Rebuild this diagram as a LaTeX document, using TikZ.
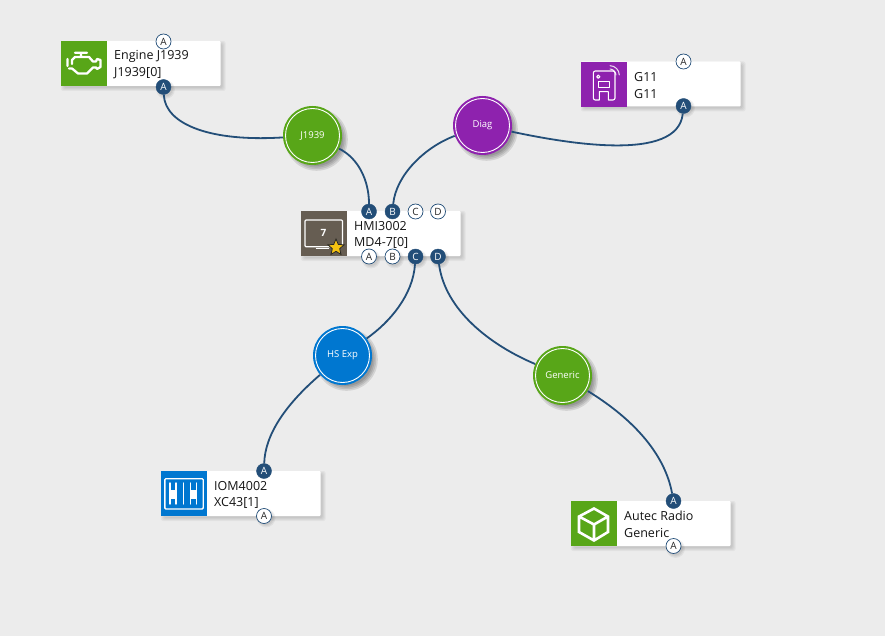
\documentclass[tikz,border=0pt]{standalone}
\usepackage{fontspec}
\setmainfont{Open Sans}
\usetikzlibrary{shapes.geometric}
\definecolor{canvasgrey}{HTML}{ECECEC}
\definecolor{linkblue}{HTML}{234E78}
\definecolor{leafgreen}{HTML}{58A618}
\definecolor{diagpurple}{HTML}{8E22AE}
\definecolor{expblue}{HTML}{0077D0}
\definecolor{hmibrown}{HTML}{665D52}
\definecolor{stargold}{HTML}{F6C312}
\tikzset{
  x=1pt,y=-1pt,
  cardbody/.style={fill=white,rounded corners=0.8,draw=none},
  iconbox/.style={draw=none,inner sep=0,minimum width=46,minimum height=45},
  cardtext/.style={anchor=west,inner sep=0,font=\fontsize{12.5}{14}\selectfont,text=black!92},
  portbase/.style={circle,inner sep=0,minimum size=15,font=\fontsize{10}{10}\selectfont},
  portused/.style={portbase,fill=linkblue,draw=linkblue,text=white},
  portfree/.style={portbase,fill=white,draw=linkblue,line width=.7,text=black!85},
  busnode/.style={circle,inner sep=0,minimum size=59,text=white,font=\fontsize{9.5}{10}\selectfont},
  link/.style={draw=linkblue,line width=1.8},
  glyph/.style={draw=white,line width=2.3,line join=round,line cap=round},
}
% soft shadow under a rectangle or a disc, built from stacked translucent layers
\newcommand{\softbox}[4]{%
  \foreach \g in {0,1,2,3}{%
    \fill[black,opacity=.04,rounded corners=2] (#1+3-\g,#2+3-\g) rectangle (#3+2+\g,#4+2+\g);}%
}
\newcommand{\softdisc}[2]{%
  \foreach \g in {0,1,2,3}{%
    \fill[black,opacity=.10] (#1+4,#2+4) circle[radius=26.5+\g*1.6];}%
}
\newcommand{\softdot}[2]{%
  \foreach \g in {0,1,2}{%
    \fill[black,opacity=.05] (#1+2,#2+2) circle[radius=7+\g*1.2];}%
}
% card: name, left, top, icon colour, first line, second line
\newcommand{\devicecard}[6]{%
  \softbox{#2}{#3}{#2+159.5}{#3+45}%
  \path[cardbody] (#2,#3) rectangle (#2+159.5,#3+45);%
  \node[iconbox,fill=#4,anchor=north west] (#1) at (#2,#3) {};%
  \node[cardtext] (#1l1) at (#2+53,#3+15.3) {#5};%
  \node[cardtext] (#1l2) at (#2+53,#3+32.3) {#6};%
}
% bus disc with an inner white ring
\newcommand{\busdisc}[5]{%
  \softdisc{#2}{#3}%
  \node[busnode,fill=#4] (#1) at (#2,#3) {#5};%
  \draw[white,line width=.9] (#1.center) circle[radius=27];%
}
\begin{document}
\begin{tikzpicture}
\useasboundingbox (0,0) rectangle (885,636);
\fill[canvasgrey] (0,0) rectangle (885,636);

% device cards
\devicecard{eng}{61}{41}{leafgreen}{Engine J1939}{J1939[0]}
\devicecard{gel}{581}{61.5}{diagpurple}{G11}{G11}
\devicecard{hmi}{301}{211}{hmibrown}{HMI3002}{MD4-7[0]}
\devicecard{iom}{161}{471}{expblue}{IOM4002}{XC43[1]}
\devicecard{aut}{571}{501}{leafgreen}{Autec Radio}{Generic}

% port markers
\softdot{163.5}{87.5}\softdot{683.5}{106}\softdot{415.5}{257}\softdot{438}{257}
\softdot{264}{516}\softdot{673.5}{546.5}\softdot{369}{257}\softdot{392.5}{257}
\node[portfree] (engT) at (163.5,41.5) {A};
\node[portused] (engB) at (163.5,87) {A};
\node[portfree] (gelT) at (683.5,61.5) {A};
\node[portused] (gelB) at (683.5,106) {A};
\node[portused] (hmiTA) at (369,211.5) {A};
\node[portused] (hmiTB) at (392.5,211.5) {B};
\node[portfree] (hmiTC) at (415.5,211.5) {C};
\node[portfree] (hmiTD) at (438,211.5) {D};
\node[portfree] (hmiBA) at (369,256.5) {A};
\node[portfree] (hmiBB) at (392.5,256.5) {B};
\node[portused] (hmiBC) at (415.5,256.5) {C};
\node[portused] (hmiBD) at (438,256.5) {D};
\node[portused] (iomT) at (264,471) {A};
\node[portfree] (iomB) at (264,516) {A};
\node[portused] (autT) at (673.5,501) {A};
\node[portfree] (autB) at (673.5,546) {A};

% bus discs
\busdisc{jbus}{312.5}{135.5}{leafgreen}{J1939}
\busdisc{dbus}{482.5}{125.5}{diagpurple}{Diag}
\busdisc{hbus}{342.5}{355.5}{expblue}{HS Exp}
\busdisc{gbus}{562.5}{375.5}{leafgreen}{Generic}

% connectors
\draw[link] (engB) .. controls (165,125) and (212,142) .. (jbus);
\draw[link] (jbus) .. controls (358,158) and (369,180) .. (hmiTA);
\draw[link] (hmiTB) .. controls (396,175) and (425,147) .. (dbus);
\draw[link] (dbus) .. controls (565,143) and (678,163) .. (gelB);
\draw[link] (hmiBC) .. controls (413,295) and (390,322) .. (hbus);
\draw[link] (hbus) .. controls (285,405) and (265,435) .. (iomT);
\draw[link] (hmiBD) .. controls (445,310) and (490,345) .. (gbus);
\draw[link] (gbus) .. controls (635,420) and (665,455) .. (autT);

% engine glyph
\draw[glyph] (75,52.7) -- (87,52.7) (81,52.7) -- (81,56.5)
  (72,64) -- (72,60) -- (75,57) -- (89,57) -- (93,61.5) -- (96,61.5) -- (97,59)
  -- (100.5,60) -- (100.5,67) -- (97,69) -- (96,67.5) -- (93,67.5) -- (87,73.5)
  -- (78,73.5) -- (72,68.5) -- (69,68.5) (67.5,59) -- (67.5,66);

% G11 device glyph
\draw[glyph,line width=1.1] (599.3,100) [rounded corners=2] -- (593.3,100) -- (593.3,71)
  -- (615,71) -- (615,100) [sharp corners] -- (608.3,100)
  -- (608.3,91.7) -- (599.3,91.7) -- cycle;
\draw[glyph,line width=1.1] (598.3,76.7) circle[radius=1.6];
\draw[glyph,line width=1.1] (598.3,81.7) rectangle (609.3,87.3);
\draw[glyph,line width=1,opacity=.85] (610,65.7) .. controls (615,65.7) and (619.3,70) .. (619.3,75);
\draw[glyph,line width=1,opacity=.85] (610,69) .. controls (613,69) and (616,72) .. (616,75);

% display glyph with its star
\draw[glyph,line width=1.2,rounded corners=1] (305,220) rectangle (342.5,246.8);
\draw[glyph,line width=1.2] (316.5,248.2) -- (328.5,248.2);
\node[inner sep=0,text=white,font=\fontsize{10}{10}\selectfont\bfseries] (hmiseven) at (323.5,233) {7};
\node[star,star points=5,star point ratio=2.2,inner sep=0,minimum size=17,fill=stargold,draw=black!85,line width=.8] (hmistar) at (336,247.5) {};

% I/O module glyph
\draw[glyph,line width=1.4,rounded corners=1] (164.8,478.7) rectangle (203.2,509);
\draw[glyph,line width=1.4] (170,483) -- (170,504) (176,483) -- (176,504)
  (190.5,483) -- (190.5,504) (196.5,483) -- (196.5,504) (183.3,483) -- (183.3,504);
\fill[white] (170,489.5) rectangle (176,498.5);
\fill[white] (190.5,489.5) rectangle (196.5,498.5);

% cube glyph
\draw[glyph,line width=2.6,line cap=butt,line join=miter]
  (594,508.5) -- (608,516.5) -- (608,532) -- (594,540.5) -- (579,532) -- (579,516.5) -- cycle
  (579,516.5) -- (594,524.5) -- (608,516.5) (594,524.5) -- (594,540.5);
\end{tikzpicture}
\end{document}
